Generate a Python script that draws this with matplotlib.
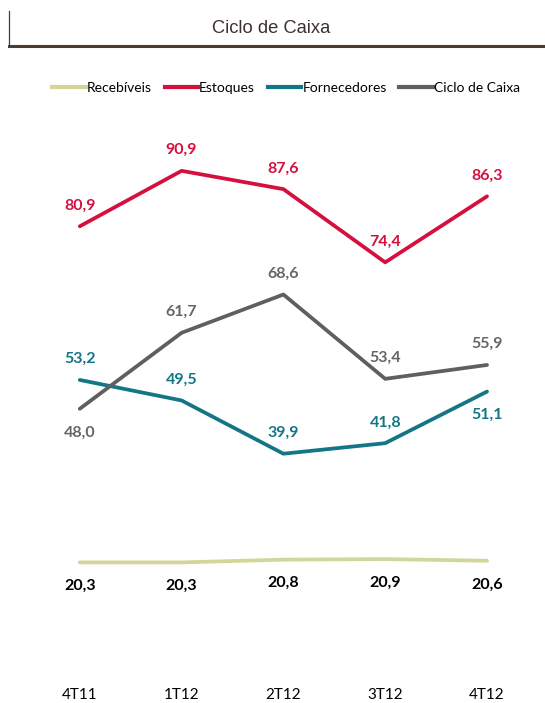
import matplotlib.pyplot as plt
from matplotlib.lines import Line2D

# Dados do ciclo de caixa (dias)
periodos = ['4T11', '1T12', '2T12', '3T12', '4T12']
recebiveis = [20.3, 20.3, 20.8, 20.9, 20.6]
estoques = [80.9, 90.9, 87.6, 74.4, 86.3]
fornecedores = [53.2, 49.5, 39.9, 41.8, 51.1]
ciclo = [48.0, 61.7, 68.6, 53.4, 55.9]

# posicao do rotulo: +1 acima, -1 abaixo
pos_estoques = [1, 1, 1, 1, 1]
pos_fornecedores = [1, 1, 1, 1, -1]
pos_ciclo = [-1, 1, 1, 1, 1]
pos_recebiveis = [-1, -1, -1, -1, -1]

c_receb = '#d3d599'
c_estoq = '#d5103f'
c_forn = '#137585'
c_ciclo = '#5f5f62'

fig = plt.figure(figsize=(5.45, 7.03), dpi=100)
ax = fig.add_axes([0.053, 0.0398, 0.934, 0.789])

x = list(range(len(periodos)))
series = [
    ('Recebíveis', recebiveis, c_receb, 'black', pos_recebiveis),
    ('Estoques', estoques, c_estoq, c_estoq, pos_estoques),
    ('Fornecedores', fornecedores, c_forn, c_forn, pos_fornecedores),
    ('Ciclo de Caixa', ciclo, c_ciclo, '#666666', pos_ciclo),
]

for nome, vals, cor, cor_txt, pos in series:
    ax.plot(x, vals, color=cor, lw=2.7, solid_capstyle='round', solid_joinstyle='round')
    for xi, v, p in zip(x, vals, pos):
        off = 15 if p > 0 else -17
        ax.annotate(f'{v:.1f}'.replace('.', ','), (xi, v), xytext=(0, off),
                    textcoords='offset points', ha='center', va='center',
                    fontsize=11.5, fontweight='bold', color=cor_txt, family='Lato')

ax.set_xlim(-0.5, 4.5)
ax.set_ylim(0, 100)
ax.set_xticks(x)
ax.set_xticklabels(periodos, fontsize=11, family='Lato', color='black')
ax.tick_params(axis='x', length=0, pad=9)
ax.set_yticks([])
for s in ax.spines.values():
    s.set_visible(False)

# titulo com linha
fig.text(0.497, 0.960, 'Ciclo de Caixa', ha='center', va='center', fontsize=13.2,
         family='Liberation Sans', color='#3d3030')
fig.add_artist(Line2D([0.017, 1.0], [0.935, 0.935], color='#4a3c30', lw=2.2))
fig.add_artist(Line2D([0.017, 0.017], [0.935, 0.984], color='#4a3c30', lw=0.9))

handles = [Line2D([], [], color=c, lw=3) for c in [c_receb, c_estoq, c_forn, c_ciclo]]
fig.legend(handles, [s[0] for s in series], loc='center', bbox_to_anchor=(0.525, 0.875),
           ncol=4, frameon=False, handlelength=2.4, handletextpad=0.1,
           columnspacing=0.9, prop={'family': 'Lato', 'size': 10})

fig.savefig('out.png', dpi=100)
